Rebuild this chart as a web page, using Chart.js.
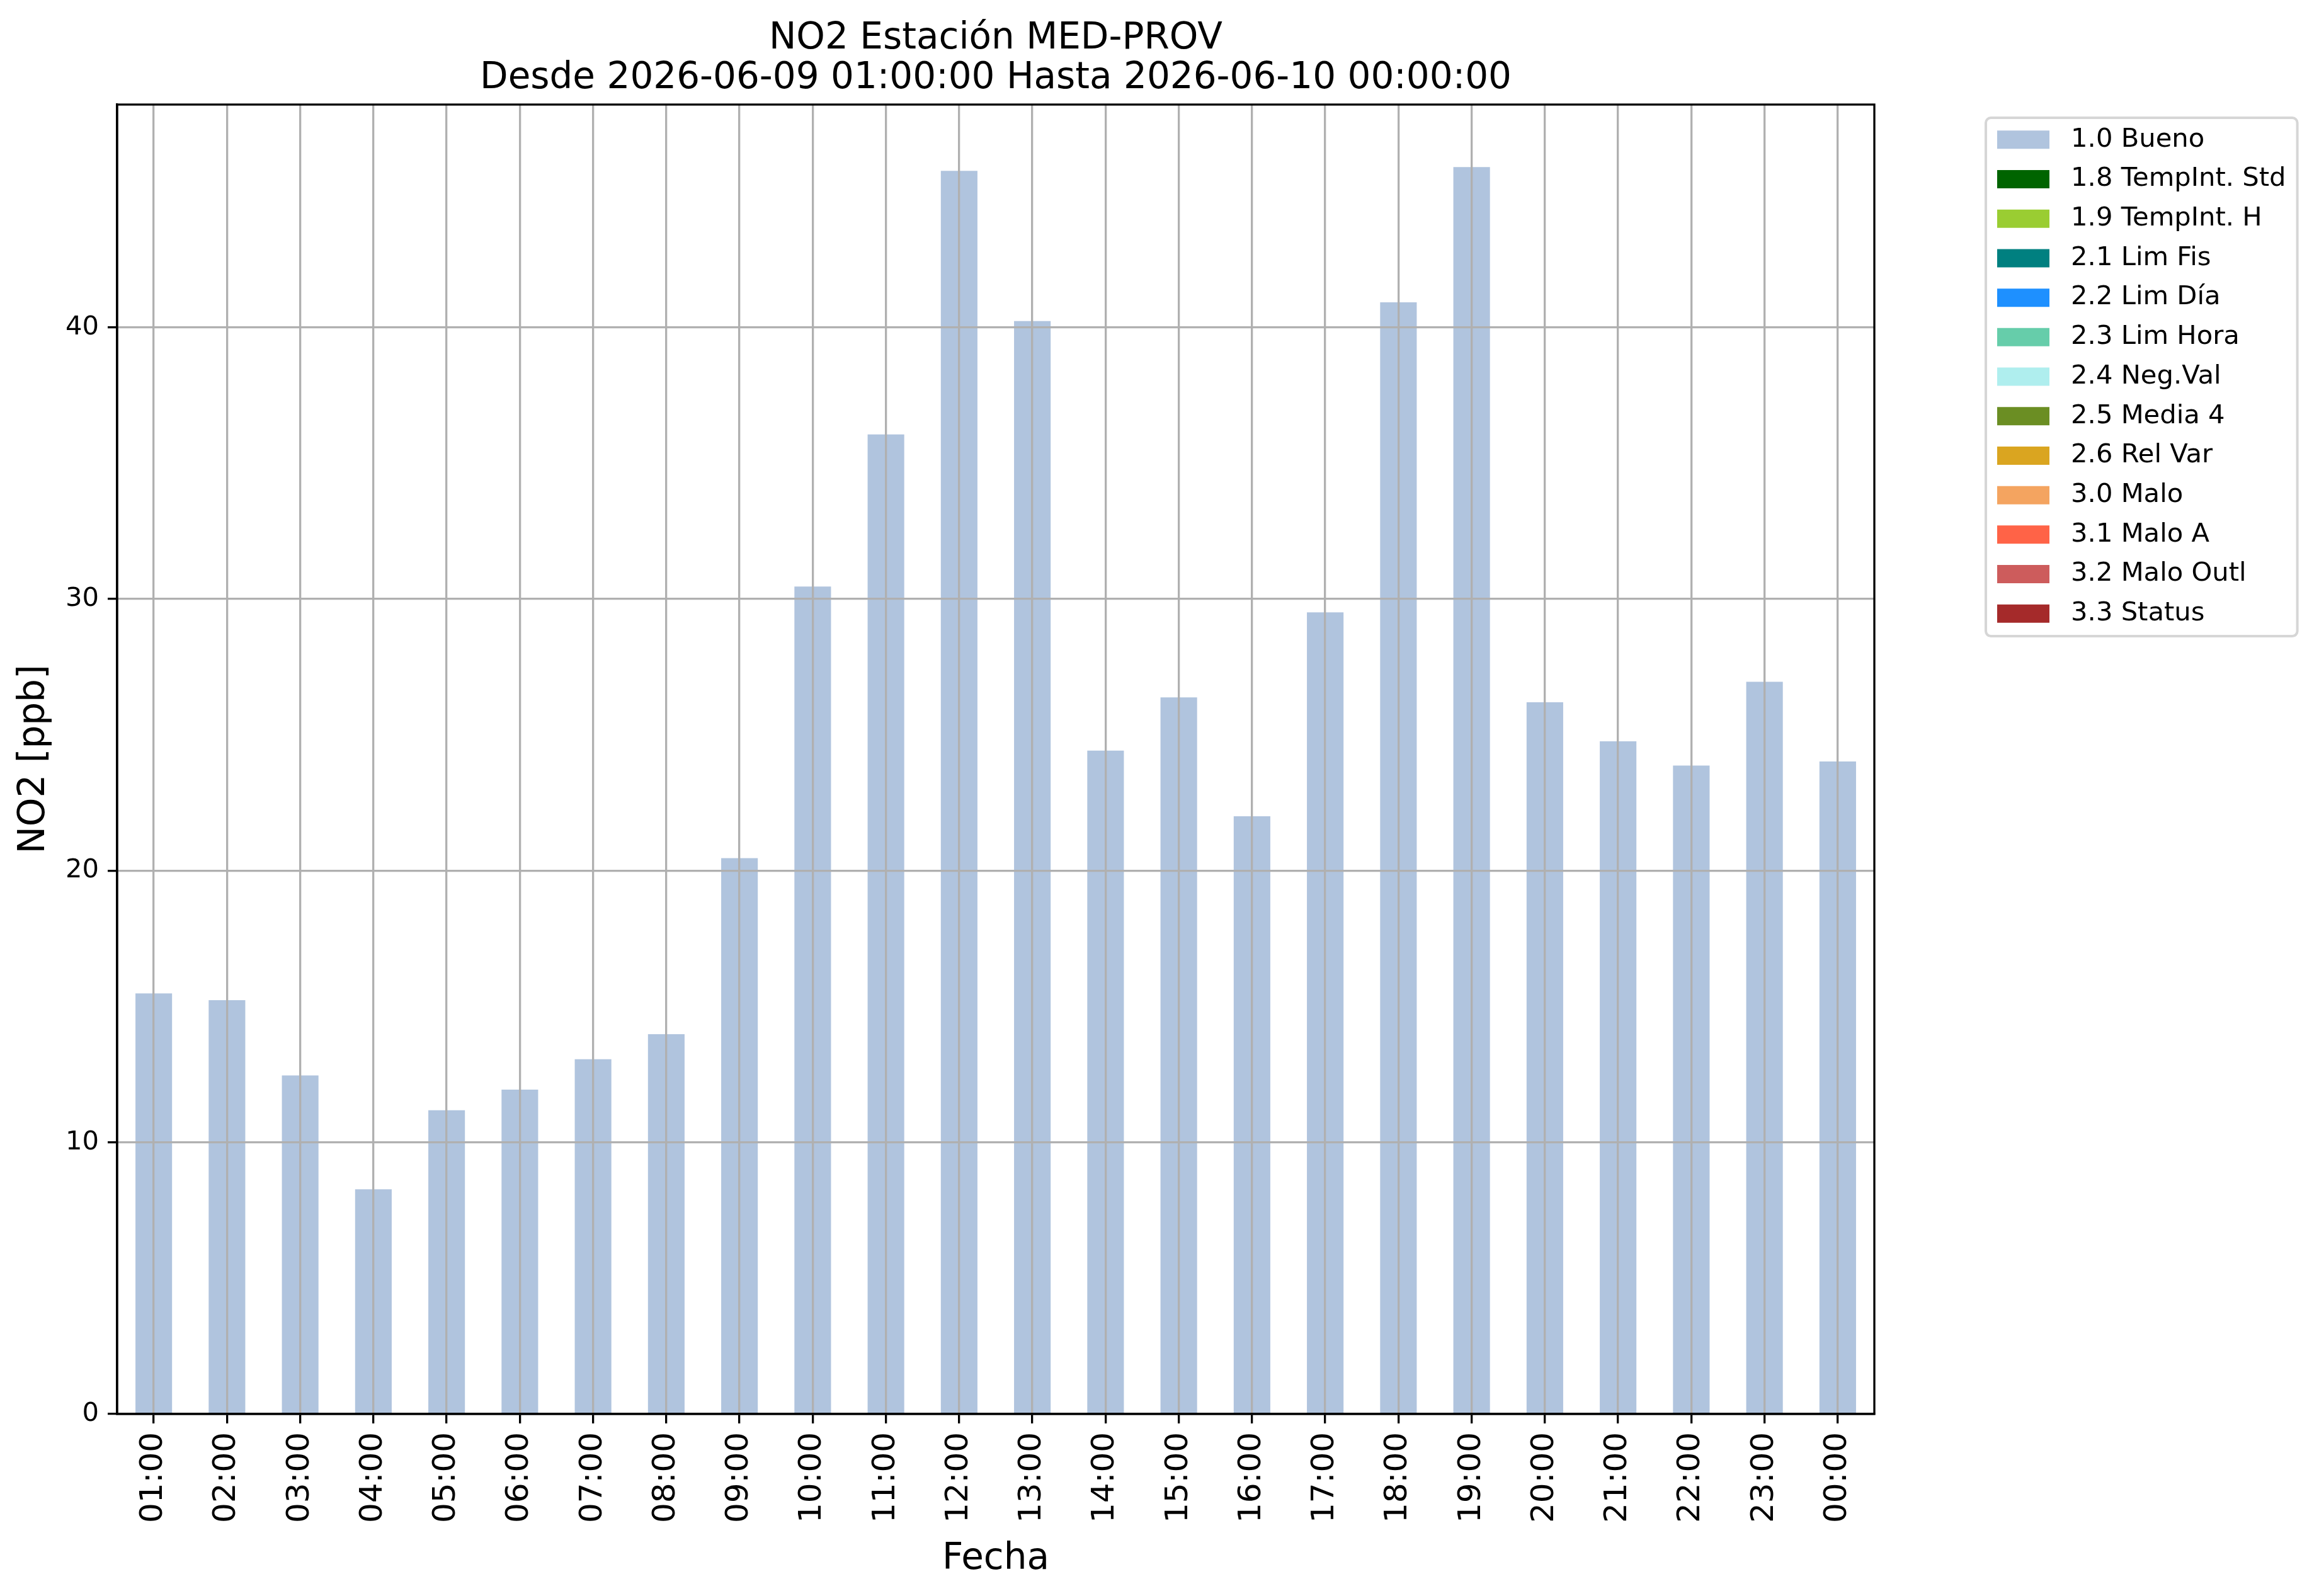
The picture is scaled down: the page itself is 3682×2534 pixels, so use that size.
<!DOCTYPE html>
<html lang="es">
<head>
<meta charset="utf-8">
<title>NO2 Estación MED-PROV</title>
<script src="https://cdn.jsdelivr.net/npm/chart.js@4.4.1/dist/chart.umd.min.js"></script>
<style>
  html, body { margin: 0; padding: 0; background: #fff; }
  #wrap { width: 3682px; height: 2534px; position: relative; }
</style>
</head>
<body>
<div id="wrap"><canvas id="chart"></canvas></div>
<script>
"use strict";

// hourly NO2 values, 2026-06-09 01:00 .. 2026-06-10 00:00
const hours = ['01:00', '02:00', '03:00', '04:00', '05:00', '06:00', '07:00', '08:00',
               '09:00', '10:00', '11:00', '12:00', '13:00', '14:00', '15:00', '16:00',
               '17:00', '18:00', '19:00', '20:00', '21:00', '22:00', '23:00', '00:00'];

const bueno = [15.48, 15.23, 12.46, 8.27, 11.18, 11.94, 13.06, 13.98,
               20.46, 30.46, 36.06, 45.76, 40.23, 24.42, 26.38, 22.0,
               29.51, 40.92, 45.9, 26.2, 24.76, 23.87, 26.95, 24.02];

// every other validation flag is empty for this day
const noData = [0, 0, 0, 0, 0, 0, 0, 0, 0, 0, 0, 0,
                0, 0, 0, 0, 0, 0, 0, 0, 0, 0, 0, 0];

const flagLabels = ['1.0 Bueno', '1.8 TempInt. Std', '1.9 TempInt. H', '2.1 Lim Fis',
                    '2.2 Lim Día', '2.3 Lim Hora', '2.4 Neg.Val', '2.5 Media 4',
                    '2.6 Rel Var', '3.0 Malo', '3.1 Malo A', '3.2 Malo Outl', '3.3 Status'];

const flagColors = ['#b0c4de', '#006400', '#9acd32', '#008080',
                    '#1e90ff', '#66cdaa', '#afeeee', '#6b8e23',
                    '#daa520', '#f4a460', '#ff6347', '#cd5c5c', '#a52a2a'];

const flagValues = [bueno, noData, noData, noData, noData, noData, noData,
                    noData, noData, noData, noData, noData, noData];

const yTop = 48.2;
const yStep = 10;

const titleLines = ['NO2 Estación MED-PROV', 'Desde 2026-06-09 01:00:00 Hasta 2026-06-10 00:00:00'];

// layout (canvas pixels)
const PLOT_RIGHT = 2976;
const LEGEND_GAP = 174;
const LINE = 3.3;

Chart.defaults.font.family = '"DejaVu Sans", sans-serif';
Chart.defaults.color = '#000';

/**
 * Black box round the plot and the grey frame round the legend.
 */
const framePlugin = {
  id: 'frame',
  afterDraw(chart) {
    const { ctx, chartArea: a, legend } = chart;
    ctx.save();
    ctx.strokeStyle = '#000';
    ctx.lineWidth = LINE;
    ctx.strokeRect(a.left, a.top, a.right - a.left, a.bottom - a.top);

    const boxes = legend && legend.legendHitBoxes;
    if (boxes && boxes.length) {
      const first = boxes[0];
      const last = boxes[boxes.length - 1];
      const w = Math.max(...boxes.map(b => b.width));
      const x = first.left - 18;
      const y = first.top - 14;
      ctx.beginPath();
      ctx.roundRect(x, y, w + 36, last.top + last.height + 15 - y, 8);
      ctx.strokeStyle = '#d6d6d6';
      ctx.lineWidth = 4;
      ctx.stroke();
    }
    ctx.restore();
  }
};

const datasets = flagLabels.map((label, i) => ({
  label: label,
  data: flagValues[i],
  backgroundColor: flagColors[i],
  borderWidth: 0,
  categoryPercentage: 1.0,
  barPercentage: 0.5
}));

const chart = new Chart(document.getElementById('chart'), {
  type: 'bar',
  data: { labels: hours, datasets: datasets },
  plugins: [framePlugin],
  options: {
    responsive: true,
    maintainAspectRatio: false,
    devicePixelRatio: 1,
    animation: false,
    layout: { padding: { left: 0, top: 0, bottom: 0, right: 0 } },
    plugins: {
      tooltip: { enabled: false },
      title: {
        display: true,
        text: titleLines,
        fullSize: false,
        font: { size: 58, weight: 'normal', lineHeight: '63px' },
        padding: { top: 30, bottom: 10 }
      },
      legend: {
        position: 'right',
        align: 'start',
        fullSize: false,
        title: { display: true, text: '', font: { size: 14, lineHeight: 1 }, padding: 0 },
        labels: {
          boxWidth: 83,
          boxHeight: 29,
          padding: 21,
          font: { size: 41.7 },
          generateLabels(c) {
            const items = Chart.defaults.plugins.legend.labels.generateLabels(c);
            items.forEach(item => { item.text = ' ' + item.text; });
            return items;
          }
        }
      }
    },
    scales: {
      x: {
        stacked: true,
        offset: true,
        grid: { z: 1, offset: false, color: '#b0b0b0', lineWidth: LINE, tickLength: 15, tickColor: '#000', tickWidth: LINE },
        border: { display: true, color: '#000', width: LINE, z: 2 },
        ticks: { autoSkip: false, maxRotation: 90, minRotation: 90, padding: 14, font: { size: 50 } },
        title: { display: true, text: 'Fecha', font: { size: 58, lineHeight: 1.2 }, padding: { top: 0, bottom: 23 } },
        afterFit: s => { s.height = 289; }
      },
      y: {
        stacked: true,
        min: 0,
        max: yTop,
        grid: { z: 1, color: '#b0b0b0', lineWidth: LINE, tickLength: 15, tickColor: '#000', tickWidth: LINE },
        border: { display: true, color: '#000', width: LINE, z: 2 },
        ticks: { stepSize: yStep, includeBounds: false, padding: 14, font: { size: 41.7 } },
        title: { display: true, text: 'NO2 [ppb]', font: { size: 58, lineHeight: 1.2 }, padding: { top: 20, bottom: 0 } },
        afterFit: s => { s.width = 186; }
      },
      // empty strip between the plot and the legend
      gap: {
        type: 'linear',
        position: 'right',
        display: true,
        grid: { display: false },
        border: { display: false },
        ticks: { display: false },
        afterFit: s => { s.width = LEGEND_GAP; }
      }
    }
  }
});

// the legend width is only known after the first layout: pad the right side so the plot ends at PLOT_RIGHT
chart.options.layout.padding.right = chart.width - PLOT_RIGHT - LEGEND_GAP - chart.legend.width;
chart.update('none');
</script>
</body>
</html>
